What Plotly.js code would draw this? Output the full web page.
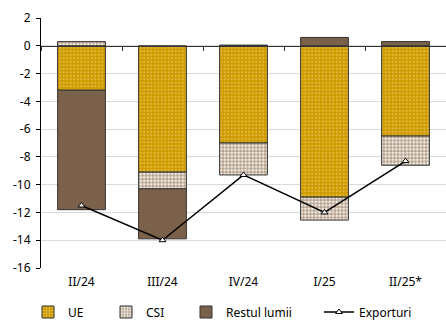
<!DOCTYPE html>
<html><head><meta charset="utf-8">
<script src="https://cdn.plot.ly/plotly-3.0.1.min.js"></script>
<style>html,body{margin:0;padding:0;background:#fff}#c{width:446px;height:325px}</style>
</head><body><div id="c"></div>
<script>
const categories = ["II/24","III/24","IV/24","I/25","II/25*"];
const ue = [-3.2, -9.1, -7.0, -10.9, -6.5];
const csi = [0.3, -1.2, -2.3, -1.65, -2.1];
const restul = [-8.6, -3.6, 0.05, 0.6, 0.3];
const exporturi = [-11.5, -14.0, -9.3, -12.0, -8.3];
const yTicks = [2,0,-2,-4,-6,-8,-10,-12,-14,-16];

const fam = "Noto Sans, sans-serif";
const line = {color: "#333", width: 1};
const traces = [
  {type:"bar", name:"UE", x:categories, y:ue, width:0.59, legend:"legend",
   marker:{color:"#D09C00", line:line, pattern:{shape:".", bgcolor:"#D09C00", fgcolor:"#F2DC9A", size:3.5, solidity:0.15}}},
  {type:"bar", name:"CSI", x:categories, y:csi, width:0.59, legend:"legend2",
   marker:{color:"#C0AE9C", line:line, pattern:{shape:".", bgcolor:"#B5A18D", fgcolor:"#F6F1EA", size:3.5, solidity:0.45}}},
  {type:"bar", name:"Restul lumii", x:categories, y:restul, width:0.59, legend:"legend3",
   marker:{color:"#7C614A", line:line}},
  {type:"scatter", mode:"lines+markers", name:"Exporturi", x:categories, y:exporturi, legend:"legend4",
   line:{color:"#000", width:1.5},
   marker:{symbol:"triangle-up", size:6, color:"#fff", line:{color:"#000", width:1}}},
  {type:"scatter", x:categories, y:[null,null,null,null,null], xaxis:"x2", showlegend:false, hoverinfo:"skip"}
];
function lg(px){
  return {orientation:"h", x:(px-41)/405, xanchor:"left", y:-0.176, yanchor:"middle",
          font:{family:fam, size:12, color:"#000"}, bgcolor:"rgba(0,0,0,0)", itemwidth:30};
}
const layout = {
  width:446, height:325,
  margin:{l:41, r:0, t:18, b:57, autoexpand:false},
  paper_bgcolor:"#fff", plot_bgcolor:"#fff",
  font:{family:fam, size:12, color:"#000"},
  barmode:"relative",
  showlegend:true,
  legend:lg(28), legend2:lg(106), legend3:lg(186), legend4:lg(319),
  xaxis:{type:"category", showgrid:false, zeroline:false, showline:false, ticks:"",
         ticklabelstandoff:5, tickfont:{family:fam, size:12}, range:[-0.5,4.5]},
  xaxis2:{type:"category", overlaying:"x", anchor:"free", position:16/18, side:"bottom",
          showticklabels:false, showgrid:false, zeroline:false, showline:true, linecolor:"#333", linewidth:1,
          ticks:"outside", ticklen:4, tickcolor:"#333", tickson:"boundaries", matches:"x",
          categoryarray:categories, categoryorder:"array"},
  yaxis:{range:[-16,2], tickvals:yTicks, ticktext:yTicks.map(String),
         showgrid:true, gridcolor:"#D9D9D9", gridwidth:1, zeroline:false,
         showline:true, linecolor:"#000", linewidth:1, ticks:"outside", ticklen:4, tickcolor:"#000",
         ticklabelstandoff:3, tickfont:{family:fam, size:12}}
};
Plotly.newPlot("c", traces, layout, {displayModeBar:false, staticPlot:true});
</script></body></html>
